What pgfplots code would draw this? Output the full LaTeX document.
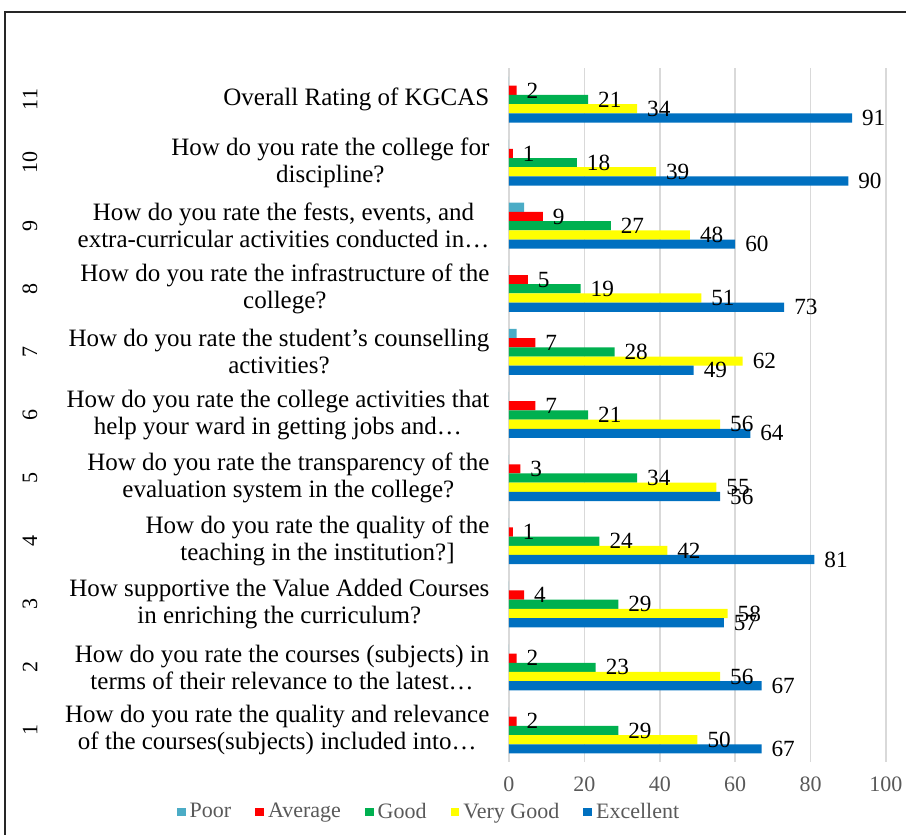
\documentclass[border=0pt]{standalone}
\usepackage{pgfplots}
\pgfplotsset{compat=1.18}
\usepackage{pgfplotstable}
\usepackage{fontspec}
\setmainfont{Liberation Serif}
\definecolor{cpoor}{HTML}{4BACC6}
\definecolor{cavg}{HTML}{FF0000}
\definecolor{cgood}{HTML}{00B050}
\definecolor{cvg}{HTML}{FFFF00}
\definecolor{cexc}{HTML}{0070C0}
\definecolor{tgray}{HTML}{595959}
\definecolor{ggray}{HTML}{D9D9D9}
\newcommand\fs{\fontsize{11}{13.3}\selectfont}
\newcommand\fc{\fontsize{12.5}{13.5}\selectfont}
\newcommand\fd{\fontsize{11.6}{13.5}\selectfont}

\pgfplotstableread{
q poor avg good vg exc
1 0 2 29 50 67
2 0 2 23 56 67
3 0 4 29 58 57
4 0 1 24 42 81
5 0 3 34 55 56
6 0 7 21 56 64
7 2 7 28 62 49
8 0 5 19 51 73
9 4 9 27 48 60
10 0 1 18 39 90
11 0 2 21 34 91
}\data

\begin{document}
\begin{tikzpicture}
\useasboundingbox (-254.5pt,-36.5pt) rectangle (198.5pt,381pt);
\draw[black!85, line width=1.2pt] (-252pt,-40pt) -- (-252pt,375pt) -- (205pt,375pt);
\begin{axis}[
  at={(0pt,0pt)}, anchor=south west,
  width=188.5pt, height=347pt, scale only axis,
  xmin=0, xmax=100, ymin=0.5, ymax=11.5,
  xtick={0,20,...,100}, ytick={1,...,11},
  yticklabels={
    {How do you rate the quality and relevance\\of the courses(subjects) included into\dots},
    {How do you rate the courses (subjects) in\\terms of their relevance to the latest\dots},
    {How supportive the Value Added Courses\\in enriching the curriculum?},
    {How do you rate the quality of the\\teaching in the institution?]},
    {How do you rate the transparency of the\\evaluation system in the college?},
    {How do you rate the college activities that\\help your ward in getting jobs and\dots},
    {How do you rate the student's counselling\\activities?},
    {How do you rate the infrastructure of the\\college?},
    {How do you rate the fests, events, and\\extra-curricular activities conducted in\dots},
    {How do you rate the college for\\discipline?},
    {Overall Rating of KGCAS}},
  extra y ticks={1,2,3,4,5,6,7,8,9,10,11},
  extra y tick labels={1,2,3,4,5,6,7,8,9,10,11},
  extra y tick style={yticklabel style={font=\fs, xshift=-233.2pt, rotate=90, anchor=center}},
  xmajorgrids, grid style={ggray, line width=0.8pt},
  axis lines*=left, axis line style={draw=none},
  major tick length=0pt,
  tick label style={font=\fs},
  xticklabel style={text=tgray, yshift=-4pt},
  yticklabel style={font=\fc, align=center, xshift=-6.3pt, text=black},
  /pgf/number format/assume math mode=true,
  xbar, bar width=4.6pt,
  legend columns=5,
  legend style={draw=none, fill=none, at={(axis description cs:-0.2095,-0.072)}, anchor=center,
    font=\fs, text=tgray, /tikz/every even column/.append style={column sep=10pt}},
  legend image code/.code={\fill[#1] (0pt,-2.2pt) rectangle (4.4pt,2.2pt);},
  every node near coord/.append style={font=\fd, text=black, xshift=1.5pt},
]
\addplot[draw=none, fill=cpoor, bar shift=9.2pt] table[x=poor, y=q] {\data};
\addplot[draw=none, fill=cavg, bar shift=4.6pt, nodes near coords] table[x=avg, y=q] {\data};
\addplot[draw=none, fill=cgood, bar shift=0pt, nodes near coords] table[x=good, y=q] {\data};
\addplot[draw=none, fill=cvg, bar shift=-4.6pt, nodes near coords] table[x=vg, y=q] {\data};
\addplot[draw=none, fill=cexc, bar shift=-9.2pt, nodes near coords] table[x=exc, y=q] {\data};
\legend{Poor, Average, Good, Very Good, Excellent}
\end{axis}
\end{tikzpicture}
\end{document}
